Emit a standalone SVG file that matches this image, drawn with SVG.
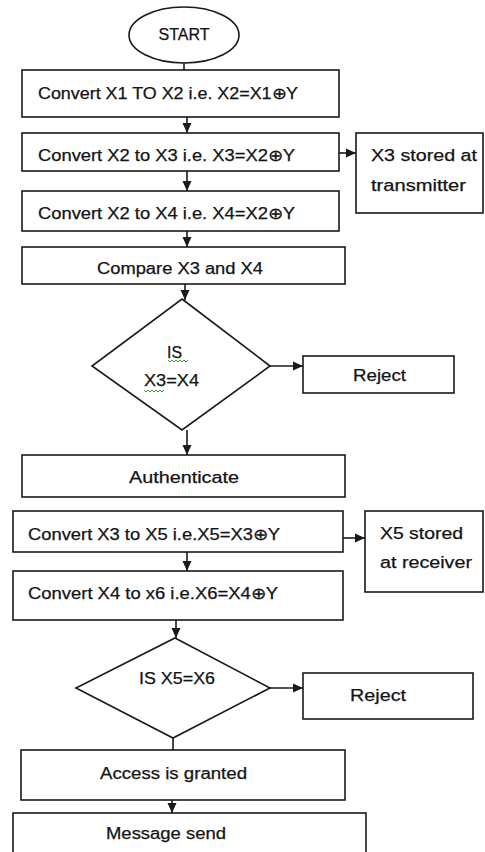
<svg xmlns="http://www.w3.org/2000/svg" width="485" height="852" viewBox="0 0 485 852">
<defs>
<style>
.n{fill:#fff;stroke:#1a1a1a;stroke-width:1.6}
.t{font-family:"Liberation Sans",Arial,sans-serif;font-size:16px;fill:#141414;stroke:#141414;stroke-width:0.25}
.c{stroke:#1a1a1a;stroke-width:1.6;fill:none}
.sq{stroke:#2e9a2e;stroke-width:1;fill:none}
</style>
<marker id="ah" markerUnits="userSpaceOnUse" markerWidth="10" markerHeight="10" refX="10" refY="5" orient="auto">
<path d="M0,0.5 L10,5 L0,9.5 z" fill="#1a1a1a"/>
</marker>
</defs>
<rect width="485" height="852" fill="#fff"/>

<g id="connectors">
<line class="c" x1="184" y1="63" x2="184" y2="70"/>
<line class="c" x1="187" y1="117" x2="187" y2="133" marker-end="url(#ah)"/>
<line class="c" x1="187" y1="171" x2="187" y2="191" marker-end="url(#ah)"/>
<line class="c" x1="187" y1="231" x2="187" y2="247" marker-end="url(#ah)"/>
<line class="c" x1="339" y1="153" x2="356" y2="153" marker-end="url(#ah)"/>
<line class="c" x1="185" y1="284" x2="185" y2="300" marker-end="url(#ah)"/>
<line class="c" x1="270" y1="366" x2="303" y2="366" marker-end="url(#ah)"/>
<line class="c" x1="187" y1="430" x2="187" y2="455" marker-end="url(#ah)"/>
<line class="c" x1="343" y1="538" x2="365" y2="538" marker-end="url(#ah)"/>
<line class="c" x1="187" y1="552" x2="187" y2="571" marker-end="url(#ah)"/>
<line class="c" x1="176" y1="620" x2="176" y2="638" marker-end="url(#ah)"/>
<line class="c" x1="270" y1="688" x2="303" y2="688" marker-end="url(#ah)"/>
<line class="c" x1="173" y1="738" x2="173" y2="750"/>
<line class="c" x1="172" y1="800" x2="172" y2="813" marker-end="url(#ah)"/>
</g>

<g id="start">
<ellipse class="n" cx="184" cy="35" rx="55" ry="28"/>
<text class="t" x="184" y="40" text-anchor="middle" textLength="51" lengthAdjust="spacingAndGlyphs">START</text>
</g>

<g id="convert-x1-x2">
<rect class="n" x="22" y="70" width="317" height="47"/>
<text class="t" x="38" y="99" textLength="260" lengthAdjust="spacingAndGlyphs">Convert X1 TO X2 i.e. X2=X1⊕Y</text>
</g>

<g id="convert-x2-x3">
<rect class="n" x="22" y="133" width="317" height="38"/>
<text class="t" x="38" y="161" textLength="257" lengthAdjust="spacingAndGlyphs">Convert X2 to X3 i.e. X3=X2⊕Y</text>
</g>

<g id="x3-stored">
<rect class="n" x="356" y="133" width="127" height="80"/>
<text class="t" x="371" y="161" textLength="106" lengthAdjust="spacingAndGlyphs">X3 stored at</text>
<text class="t" x="371" y="191" textLength="95" lengthAdjust="spacingAndGlyphs">transmitter</text>
</g>

<g id="convert-x2-x4">
<rect class="n" x="22" y="191" width="317" height="40"/>
<text class="t" x="38" y="219" textLength="257" lengthAdjust="spacingAndGlyphs">Convert X2 to X4 i.e. X4=X2⊕Y</text>
</g>

<g id="compare">
<rect class="n" x="22" y="247" width="323" height="37"/>
<text class="t" x="97" y="274" textLength="166" lengthAdjust="spacingAndGlyphs">Compare X3 and X4</text>
</g>

<g id="decision1">
<polygon class="n" points="182,299 270,366 182,430 92,366"/>
<text class="t" x="167" y="358" textLength="15" lengthAdjust="spacingAndGlyphs">IS</text>
<text class="t" x="144" y="386" textLength="55" lengthAdjust="spacingAndGlyphs">X3=X4</text>
<polyline class="sq" points="168,360 170,362 172,360 174,362 176,360 178,362 180,360 182,362 184,360 186,362 188,360"/>
<polyline class="sq" points="144,390 146,392 148,390 150,392 152,390 154,392 156,390 158,392 160,390 162,392 164,390"/>
</g>

<g id="reject1">
<rect class="n" x="303" y="356" width="151" height="37"/>
<text class="t" x="353" y="381" textLength="53" lengthAdjust="spacingAndGlyphs">Reject</text>
</g>

<g id="authenticate">
<rect class="n" x="22" y="455" width="323" height="42"/>
<text class="t" x="129" y="483" textLength="110" lengthAdjust="spacingAndGlyphs">Authenticate</text>
</g>

<g id="convert-x3-x5">
<rect class="n" x="13" y="511" width="330" height="41"/>
<text class="t" x="28" y="540" textLength="252" lengthAdjust="spacingAndGlyphs">Convert X3 to X5 i.e.X5=X3⊕Y</text>
</g>

<g id="x5-stored">
<rect class="n" x="365" y="511" width="118" height="81"/>
<text class="t" x="380" y="539" textLength="83" lengthAdjust="spacingAndGlyphs">X5 stored</text>
<text class="t" x="380" y="568" textLength="92" lengthAdjust="spacingAndGlyphs">at receiver</text>
</g>

<g id="convert-x4-x6">
<rect class="n" x="13" y="571" width="330" height="49"/>
<text class="t" x="28" y="599" textLength="250" lengthAdjust="spacingAndGlyphs">Convert X4 to x6 i.e.X6=X4⊕Y</text>
</g>

<g id="decision2">
<polygon class="n" points="175,638 270,688 173,738 76,688"/>
<text class="t" x="139" y="684" textLength="76" lengthAdjust="spacingAndGlyphs">IS X5=X6</text>
</g>

<g id="reject2">
<rect class="n" x="303" y="673" width="170" height="46"/>
<text class="t" x="350" y="701" textLength="56" lengthAdjust="spacingAndGlyphs">Reject</text>
</g>

<g id="access">
<rect class="n" x="21" y="750" width="324" height="50"/>
<text class="t" x="100" y="779" textLength="147" lengthAdjust="spacingAndGlyphs">Access is granted</text>
</g>

<g id="message">
<rect class="n" x="13" y="813" width="353" height="45"/>
<text class="t" x="106" y="839" textLength="120" lengthAdjust="spacingAndGlyphs">Message send</text>
</g>
</svg>
